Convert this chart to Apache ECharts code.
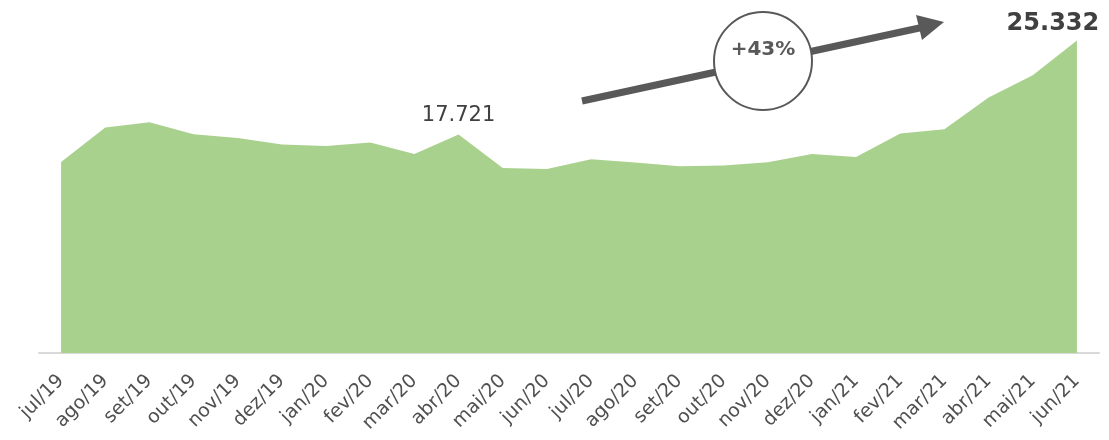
<!DOCTYPE html>
<html>
<head>
<meta charset="utf-8">
<script src="https://cdn.jsdelivr.net/npm/echarts@6/dist/echarts.min.js"></script>
<style>html,body{margin:0;padding:0;background:#fff;}#c{width:1109px;height:440px;}</style>
</head>
<body>
<div id="c"></div>
<script>
const categories = ['jul/19','ago/19','set/19','out/19','nov/19','dez/19','jan/20','fev/20','mar/20','abr/20','mai/20','jun/20','jul/20','ago/20','set/20','out/20','nov/20','dez/20','jan/21','fev/21','mar/21','abr/21','mai/21','jun/21'];
const values = [15495,18282,18711,17739,17439,16905,16791,17067,16143,17721,15009,14928,15714,15447,15147,15204,15471,16143,15900,17796,18144,20712,22518,25332];
const growthLabel = '+43%';

function fmt(v){ return String(v).replace(/\B(?=(\d{3})+(?!\d))/g,'.'); }

const data = values.map((v,i)=>{
  const c = categories[i];
  if (c === 'abr/20') return {value:v,label:{show:true,position:'top',distance:8,fontSize:21,color:'#404040',opacity:1,formatter:p=>fmt(p.value)}};
  if (c === 'jun/21') return {value:v,label:{show:true,position:'top',distance:4,fontSize:24,fontWeight:'bold',color:'#404040',opacity:1,formatter:p=>fmt(p.value)}};
  return v;
});
const lastIndex = categories.length - 1;

const chart = echarts.init(document.getElementById('c'));
chart.setOption({
  animation:false,
  grid:{left:39,right:10,top:20,bottom:87,containLabel:false},
  xAxis:{type:'category',data:categories,boundaryGap:true,
    axisLine:{lineStyle:{color:'#d9d9d9',width:2}},
    axisTick:{show:false},
    axisLabel:{rotate:45,fontSize:19,color:'#505050',fontFamily:'DejaVu Sans',margin:25,interval:0}},
  yAxis:{type:'value',min:0,max:27000,show:false,splitLine:{show:false}},
  textStyle:{fontFamily:'DejaVu Sans'},
  series:[{type:'line',data:data,symbol:'circle',symbolSize:1,showSymbol:true,showAllSymbol:true,lineStyle:{width:0},
    itemStyle:{color:'rgba(169,209,142,0)',borderWidth:0},
    areaStyle:{color:'#a9d18e',opacity:1},
    labelLayout:function(p){ return p.dataIndex === lastIndex ? {dx:-24, hideOverlap:false} : {hideOverlap:false}; },
    label:{show:false,fontFamily:'DejaVu Sans'}}],
  graphic:[
    {type:'line',shape:{x1:582,y1:101,x2:924,y2:27},style:{stroke:'#595959',lineWidth:7},z:10},
    {type:'polygon',shape:{points:[[944,22],[916,15],[922,40]]},style:{fill:'#595959'},z:10},
    {type:'circle',shape:{cx:763,cy:61,r:49},style:{fill:'#fff',stroke:'#595959',lineWidth:2},z:11},
    {type:'text',x:763,y:50,style:{text:growthLabel,font:'bold 20px "DejaVu Sans"',fill:'#595959',align:'center',verticalAlign:'middle'},z:12}
  ]
});
</script>
</body>
</html>
